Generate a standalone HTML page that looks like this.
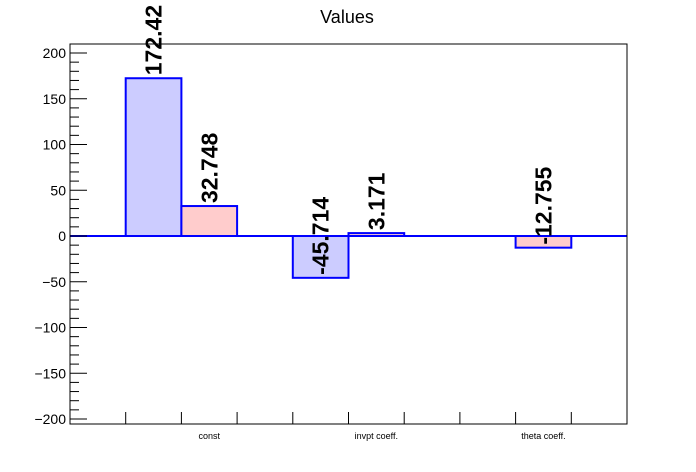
<!DOCTYPE html>
<html><head><meta charset="utf-8"><style>
html,body{margin:0;padding:0;background:#fff;}
svg{display:block;font-family:"Liberation Sans",sans-serif;}
</style></head><body>
<svg id="chart" width="696" height="472" viewBox="0 0 696 472">
<text x="347" y="23" font-size="18" text-anchor="middle">Values</text>
<g id="marks"></g>
<rect x="70" y="44" width="557" height="380" fill="none" stroke="#000" stroke-width="1"/>
<g id="axes"></g>
</svg>
<script>
const categories = ["const", "invpt coeff.", "theta coeff."];
const seriesA = [172.42, -45.714, 0];
const seriesB = [32.748, 3.171, -12.755];
const labelsA = ["172.42", "-45.714", null];
const labelsB = ["32.748", "3.171", "-12.755"];
const yTicks = [-200, -150, -100, -50, 0, 50, 100, 150, 200];

const X0 = 70, X1 = 627, Y0 = 44, Y1 = 424;
const xMin = 0, xMax = 10;
const zeroY = 236, pxPerUnit = 0.915;
const xs = u => X0 + (u - xMin) / (xMax - xMin) * (X1 - X0);
const ys = v => zeroY - v * pxPerUnit;
const NS = "http://www.w3.org/2000/svg";
const marks = document.getElementById("marks");
const axes = document.getElementById("axes");
function mk(tag, attrs, parent) {
  const e = document.createElementNS(NS, tag);
  for (const k in attrs) e.setAttribute(k, attrs[k]);
  parent.appendChild(e);
  return e;
}
// zero line
const zl = mk("line", {x1: X0, x2: X1, y1: ys(0), y2: ys(0), stroke: "#0000ff", "stroke-width": 2}, marks);



function drawBar(val, u, fill, lbl, name) {
  const xa = xs(u), xb = xs(u + 1);
  if (val !== 0) {
    const r = mk("rect", {x: xa, y: Math.min(ys(val), ys(0)), width: xb - xa, height: Math.abs(ys(val) - ys(0)), fill: fill, stroke: "#0000ff", "stroke-width": 2}, marks);
    
    
  }
  if (lbl !== null) {
    const cx = (xa + xb) / 2, cy = ys(val) - 3;
    const t = mk("text", {x: 0, y: 0, "font-size": 23, "font-weight": "bold", transform: `translate(${cx + 8},${cy}) rotate(-90)`}, marks);
    t.textContent = lbl;
    
    
  }
}
categories.forEach((c, i) => {
  const base = 1 + 3 * i;
  drawBar(seriesA[i], base, "#ccccff", labelsA[i], "bar-a-" + i);
  drawBar(seriesB[i], base + 1, "#ffcccc", labelsB[i], "bar-b-" + i);
  const ct = mk("text", {x: xs(base + 1.5), y: 439, "font-size": 9, "text-anchor": "middle"}, axes);
  ct.textContent = c;
  
  
});
// y ticks
for (let v = -200; v <= 200; v += 10) {
  const major = v % 50 === 0;
  const tk = mk("line", {x1: X0, x2: X0 + (major ? 17 : 9), y1: ys(v), y2: ys(v), stroke: "#000", "stroke-width": 1}, axes);
  
  
}
yTicks.forEach(v => {
  const t = mk("text", {x: 66, y: ys(v) + 5, "font-size": 14, "text-anchor": "end"}, axes);
  t.textContent = v < 0 ? "\u2212" + Math.abs(v) : String(v);
  
  
});
// x ticks
for (let u = 1; u < 10; u++) {
  const tk = mk("line", {x1: xs(u), x2: xs(u), y1: Y1, y2: Y1 - 12, stroke: "#000", "stroke-width": 1}, axes);
  
  
}
</script>
</body></html>
